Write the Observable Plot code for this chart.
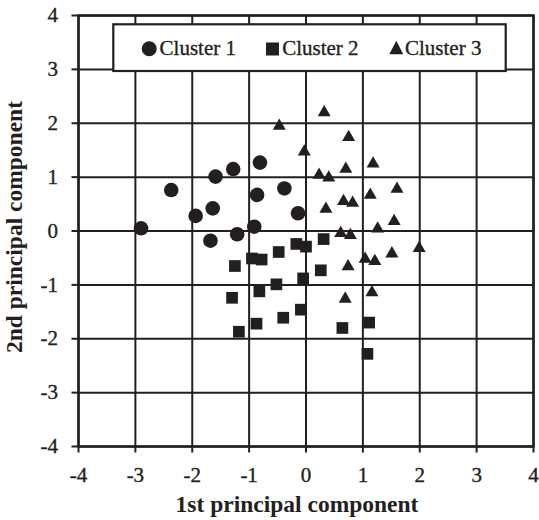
<!DOCTYPE html>
<html><head><meta charset="utf-8">
<script src="https://cdn.jsdelivr.net/npm/d3@7"></script>
<script src="https://cdn.jsdelivr.net/npm/@observablehq/plot@0.6"></script>
<style>
html,body{margin:0;padding:0;background:#fff}
#chart{position:relative;width:539px;height:520px}
#chart svg{display:block}
#legend{position:absolute;left:0;top:0;pointer-events:none}
#chart g[aria-label="x-axis tick label"] text, #chart g[aria-label="y-axis tick label"] text, #legend text{
  stroke:#231f20; stroke-width:0.35px; paint-order:stroke;
}
</style>
</head><body><div id="chart"></div>
<script>
// Cluster 1 (circles): [1st PC, 2nd PC]
const cluster1 = [[-2.90,0.05],[-2.37,0.76],[-1.59,1.01],[-1.28,1.15],[-0.81,1.27],[-0.86,0.67],[-0.38,0.79],[-0.14,0.33],[-1.64,0.42],[-1.94,0.28],[-0.91,0.08],[-1.21,-0.06],[-1.68,-0.18]];
// Cluster 2 (squares)
const cluster2 = [[-1.25,-0.65],[-0.95,-0.51],[-0.78,-0.53],[-0.48,-0.39],[-0.17,-0.24],[0.00,-0.29],[0.31,-0.15],[0.26,-0.73],[-0.52,-0.99],[-0.05,-0.88],[-0.82,-1.12],[-1.30,-1.24],[-0.09,-1.46],[-0.40,-1.61],[-0.87,-1.72],[-1.18,-1.87],[0.64,-1.80],[1.11,-1.70],[1.08,-2.28]];
// Cluster 3 (triangles)
const cluster3 = [[0.32,2.20],[0.75,1.74],[-0.03,1.47],[1.18,1.25],[0.70,1.15],[0.23,1.04],[0.40,0.99],[-0.47,1.95],[1.60,0.78],[1.13,0.67],[0.66,0.55],[0.82,0.52],[0.35,0.41],[1.55,0.18],[1.26,0.04],[0.61,-0.04],[0.78,-0.08],[1.99,-0.32],[1.51,-0.42],[1.04,-0.52],[1.21,-0.56],[0.74,-0.66],[0.69,-1.26],[1.16,-1.14]];
const clusterNames = ["Cluster 1", "Cluster 2", "Cluster 3"];
const clusterSymbols = ["circle", "square", "triangle"];
const xTicks = [-4, -3, -2, -1, 0, 1, 2, 3, 4];
const yTicks = [-4, -3, -2, -1, 0, 1, 2, 3, 4];
const xTitle = "1st principal component";
const yTitle = "2nd principal component";

const ink = "#231f20";
const serif = "'Liberation Serif', 'Times New Roman', Times, serif";
const fmt = d => (d < 0 ? "-" + Math.abs(d) : String(d));

const chart = Plot.plot({
  width: 539,
  height: 520,
  marginLeft: 78,
  marginRight: 6,
  marginTop: 15,
  marginBottom: 74,
  style: {fontFamily: serif, fontSize: "21px", color: ink, background: "white", overflow: "visible"},
  x: {domain: [-4, 4], label: null},
  y: {domain: [-4, 4], label: null},
  marks: [
    Plot.gridX({ticks: xTicks, stroke: ink, strokeOpacity: 1, strokeWidth: 2}),
    Plot.gridY({ticks: yTicks, stroke: ink, strokeOpacity: 1, strokeWidth: 2}),
    Plot.frame({stroke: ink, strokeWidth: 2.5}),
    Plot.axisX({ticks: xTicks, tickFormat: fmt, tickSize: 6.5, tickPadding: 14, strokeWidth: 2, fontSize: 21, label: null}),
    Plot.axisY({ticks: yTicks, tickFormat: fmt, tickSize: 6.5, tickPadding: 14, strokeWidth: 2, fontSize: 21, label: null}),
    Plot.dot(cluster1, {x: d => d[0], y: d => d[1], symbol: clusterSymbols[0], r: 7.3, fill: ink, stroke: "none"}),
    Plot.dot(cluster2, {x: d => d[0], y: d => d[1], symbol: clusterSymbols[1], r: 6.6, fill: ink, stroke: "none"}),
    Plot.dot(cluster3, {x: d => d[0], y: d => d[1], symbol: clusterSymbols[2], r: 4.83, fill: ink, stroke: "none"}),
    Plot.text([xTitle], {frameAnchor: "bottom", lineAnchor: "bottom", textAnchor: "middle", dx: -9, dy: 65, fontWeight: "bold", fontSize: 23.5, fill: ink}),
    Plot.text([yTitle], {frameAnchor: "left", lineAnchor: "bottom", textAnchor: "middle", rotate: -90, dx: -57, dy: -4, fontWeight: "bold", fontSize: 23.5, fill: ink})
  ]
});

const root = document.getElementById("chart");
root.appendChild(chart);

// Legend box (inside the plot area, top)
const lg = d3.select(root).append("svg").attr("id", "legend").attr("width", 539).attr("height", 100);
lg.append("rect").attr("x", 113.3).attr("y", 24.3).attr("width", 392.4).attr("height", 46.7)
  .attr("fill", "white").attr("stroke", ink).attr("stroke-width", 2.2);
const symX = [149.2, 272.5, 396.3];
const textX = [159.6, 282.2, 405.0];
clusterNames.forEach((name, i) => {
  const s = clusterSymbols[i];
  if (s === "circle") {
    lg.append("circle").attr("cx", symX[i]).attr("cy", 48.8).attr("r", 7.5).attr("fill", ink);
  } else if (s === "square") {
    lg.append("rect").attr("x", symX[i] - 6.5).attr("y", 42.5).attr("width", 13).attr("height", 13).attr("fill", ink);
  } else {
    lg.append("path").attr("d", `M${symX[i] - 7},54.3L${symX[i] + 7},54.3L${symX[i]},40.7Z`).attr("fill", ink);
  }
  lg.append("text").attr("x", textX[i]).attr("y", 55.2)
    .attr("font-family", serif).attr("font-size", 21).attr("fill", ink).text(name);
});
</script>
</body></html>
